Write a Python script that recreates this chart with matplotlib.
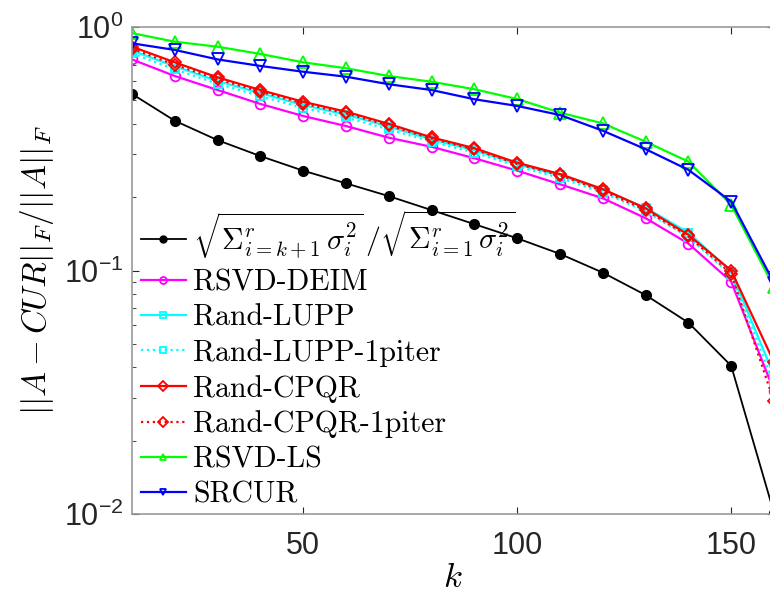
import matplotlib
matplotlib.use("Agg")
import matplotlib.pyplot as plt

plt.rcParams['font.family'] = ['Liberation Sans', 'DejaVu Sans']
plt.rcParams['mathtext.fontset'] = 'cm'

# data
k = [10, 20, 30, 40, 50, 60, 70, 80, 90, 100, 110, 120, 130, 140, 150, 160]
sv_tail = [0.531, 0.412, 0.343, 0.295, 0.257, 0.228, 0.202, 0.177, 0.155, 0.1356,
           0.117, 0.098, 0.0793, 0.0611, 0.0406, 0.0101]
rsvd_deim = [0.736, 0.629, 0.551, 0.483, 0.431, 0.392, 0.351, 0.322, 0.289, 0.257,
             0.226, 0.198, 0.164, 0.129, 0.090, 0.032]
rand_lupp = [0.80, 0.69, 0.600, 0.535, 0.478, 0.437, 0.390, 0.345, 0.312, 0.273,
             0.246, 0.214, 0.181, 0.143, 0.099, 0.037]
rand_lupp_1p = [0.78, 0.67, 0.585, 0.520, 0.465, 0.425, 0.380, 0.338, 0.305, 0.268,
                0.240, 0.209, 0.175, 0.137, 0.096, 0.034]
rand_cpqr = [0.83, 0.716, 0.621, 0.551, 0.493, 0.449, 0.400, 0.352, 0.318, 0.277,
             0.249, 0.216, 0.180, 0.140, 0.100, 0.042]
rand_cpqr_1p = [0.815, 0.70, 0.610, 0.543, 0.485, 0.442, 0.394, 0.348, 0.314, 0.274,
                0.246, 0.212, 0.177, 0.138, 0.097, 0.029]
rsvd_ls = [0.944, 0.87, 0.830, 0.775, 0.716, 0.677, 0.629, 0.596, 0.555, 0.506,
           0.445, 0.402, 0.338, 0.280, 0.186, 0.0855]
srcur = [0.857, 0.805, 0.736, 0.692, 0.655, 0.625, 0.582, 0.551, 0.505, 0.474,
         0.435, 0.375, 0.315, 0.259, 0.192, 0.089]

fig = plt.figure(figsize=(7.7, 5.98), dpi=100)
ax = fig.add_axes([132/770, 1-514/598, 642/770, 487/598])

lw = 1.6
ax.semilogy(k, sv_tail, '-o', color='k', lw=1.3, ms=7, mfc='k',
            label=r'$\sqrt{\Sigma_{i=k+1}^{r}\,\sigma_i^2}\,/\sqrt{\Sigma_{i=1}^{r}\,\sigma_i^2}$')
ax.semilogy(k, rsvd_deim, '-o', color='#ff00ff', lw=lw, ms=7, mfc='none', mew=1.3, label='RSVD-DEIM')
ax.semilogy(k, rand_lupp, '-s', color='#00ffff', lw=lw, ms=6, mfc='none', mew=1.3, label='Rand-LUPP')
ax.semilogy(k, rand_lupp_1p, ':s', color='#00ffff', lw=lw, ms=6, mfc='none', mew=1.3, label='Rand-LUPP-1piter')
ax.semilogy(k, rand_cpqr, '-D', color='#ff0000', lw=lw, ms=6, mfc='none', mew=1.3, label='Rand-CPQR')
ax.semilogy(k, rand_cpqr_1p, ':D', color='#ff0000', lw=lw, ms=6, mfc='none', mew=1.3, label='Rand-CPQR-1piter')
ax.semilogy(k, rsvd_ls, '-^', color='#00ff00', lw=lw, ms=8, mfc='none', mew=1.3, label='RSVD-LS')
ax.semilogy(k, srcur, '-v', color='#0000ff', lw=lw, ms=8, mfc='none', mew=1.3, label='SRCUR')

ax.set_xlim(10, 160)
ax.set_ylim(0.01, 1)
ax.set_xticks([50, 100, 150])
ax.tick_params(which='both', direction='in', top=True, right=True, colors='0.15',
               labelsize=22, labelcolor='#262626')
ax.tick_params(which='major', length=5)
ax.tick_params(which='minor', length=3)
ax.tick_params(axis='x', pad=12)
ax.tick_params(axis='y', pad=6)
for s in ax.spines.values():
    s.set_color('0.6')
    s.set_linewidth(1.2)

ax.set_xlabel(r'$k$', fontsize=25, labelpad=0)
ax.set_ylabel(r'$||A-CUR||_F/||A||_F$', fontsize=24, labelpad=6)

leg = ax.legend(loc='upper left', bbox_to_anchor=(141/770, 1-208/598),
                bbox_transform=fig.transFigure, frameon=False,
                prop={'family': 'cmr10', 'size': 21.5}, handlelength=1.5,
                handletextpad=0.25, labelspacing=0.26, borderaxespad=0, borderpad=0)
for h in leg.legend_handles:
    h.set_markersize(5)

fig.savefig('out.png', dpi=100)
